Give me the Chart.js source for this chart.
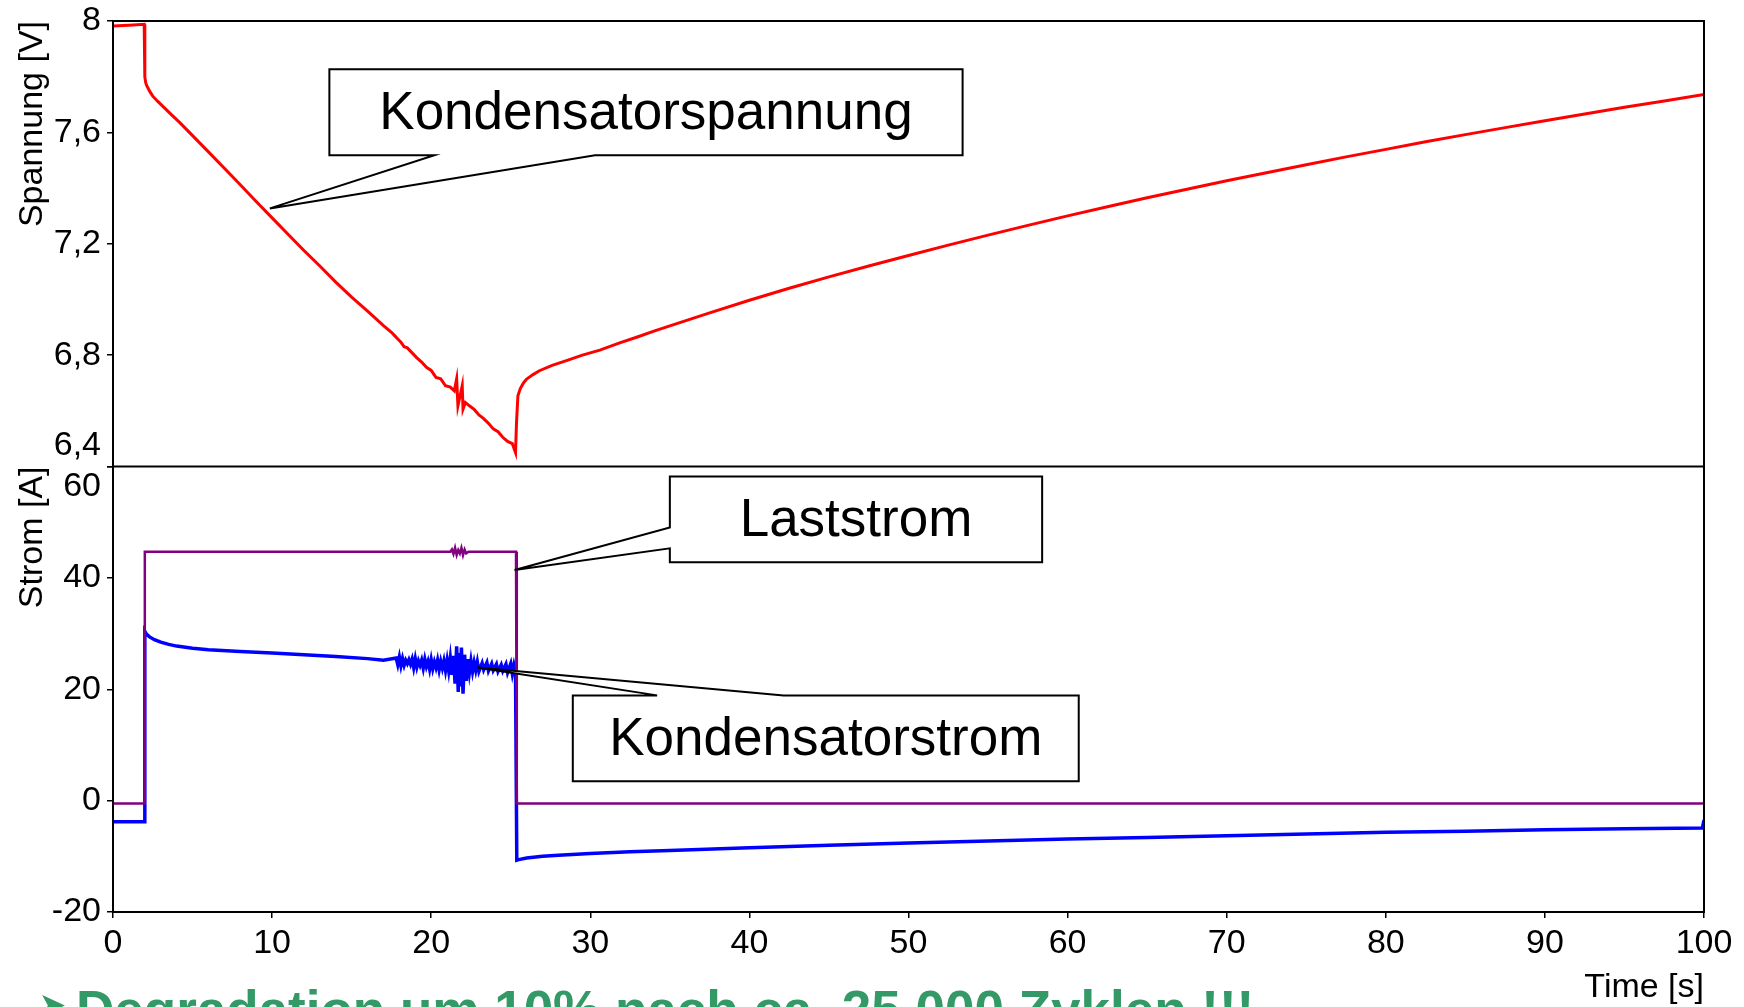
<!DOCTYPE html>
<html>
<head>
<meta charset="utf-8">
<script src="https://cdn.jsdelivr.net/npm/chart.js@4.4.1/dist/chart.umd.min.js"></script>
<style>
  html, body { margin: 0; padding: 0; background: #fff; overflow: hidden; }
  #wrap { position: relative; width: 1744px; height: 1007px; overflow: hidden; }
  #chart { position: absolute; left: 0; top: 0; }
  .note { position: absolute; white-space: nowrap; color: #339966; font-weight: bold;
          font-family: "Liberation Sans", Arial, sans-serif; }
</style>
</head>
<body>
<div id="wrap">
  <canvas id="chart" width="1744" height="1007"></canvas>
  <div class="note" id="bullet" style="left:40px; top:990px; font-size:30px; line-height:30px;">➤</div>
  <div class="note" id="note" style="left:76px; top:983px; font-size:53px; line-height:53px;">Degradation um 10% nach ca. 25.000 Zyklen !!!</div>
</div>
<script>
// Kondensatorspannung [V] over time [s]
const vTime = [0, 1, 1.96, 2.0, 2.05, 2.1, 2.3, 2.5, 2.8, 3.2, 3.7, 4.2, 4.8, 5.4, 6.0, 7.0, 8.0, 9.0, 10.0, 11.0,
  12.0, 13.0, 14.0, 15.0, 16.0, 17.0, 17.5, 17.7, 17.9, 18.1, 18.3, 18.5, 18.8, 19.1, 19.4, 19.7, 20.0, 20.3, 20.6,
  20.9, 21.2, 21.45, 21.6, 21.68, 21.8, 21.95, 22.0, 22.15, 22.4, 22.7, 23.0, 23.3, 23.6, 23.9, 24.2, 24.5, 24.8,
  25.1, 25.3, 25.36, 25.45, 25.6, 25.8, 26.0, 26.4, 26.8, 27.6, 28.5, 29.5, 30.6, 31.8, 33, 34, 35, 37.5, 40, 42.5,
  45, 47.5, 50, 52.5, 55, 57.5, 60, 62.5, 65, 67.5, 70, 72.5, 75, 77.5, 80, 82.5, 85, 87.5, 90, 92.5, 95, 97.5, 100];
const vValues = [7.982, 7.985, 7.988, 7.80, 7.78, 7.77, 7.748, 7.73, 7.712, 7.69, 7.662, 7.635, 7.60, 7.565, 7.53,
  7.471, 7.412, 7.352, 7.293, 7.234, 7.176, 7.12, 7.062, 7.008, 6.958, 6.906, 6.882, 6.870, 6.858, 6.846, 6.830, 6.826,
  6.808, 6.79, 6.775, 6.756, 6.745, 6.72, 6.715, 6.69, 6.685, 6.672, 6.715, 6.618, 6.65, 6.69, 6.606, 6.63, 6.618,
  6.605, 6.585, 6.572, 6.555, 6.535, 6.525, 6.505, 6.49, 6.482, 6.45, 6.555, 6.654, 6.68, 6.70, 6.714, 6.73, 6.744,
  6.763, 6.78, 6.80, 6.818, 6.843, 6.866, 6.886, 6.905, 6.952, 6.997, 7.04, 7.081, 7.12, 7.158, 7.195, 7.231, 7.266,
  7.30, 7.333, 7.365, 7.396, 7.426, 7.455, 7.484, 7.512, 7.539, 7.566, 7.592, 7.617, 7.642, 7.666, 7.69, 7.713, 7.736];

// Laststrom [A]
const lTime = [0, 1.97, 2.0, 21.2, 21.3, 21.4, 21.5, 21.6, 21.7, 21.8, 21.9, 22.0, 22.1, 22.2, 22.35, 25.33, 25.38, 100];
const lValues = [-0.5, -0.5, 44.7, 44.7, 45.1, 44.3, 45.4, 44.1, 45.0, 44.4, 45.4, 44.1, 45.1, 44.4, 44.7, 44.7, -0.5, -0.5];

// Kondensatorstrom [A]
const cTime = [0, 1.97, 2.0, 2.1, 2.3, 2.6, 3.0, 3.5, 4.0, 5.0, 6.0, 8.0, 10, 12, 14, 16, 17,
  17.8, 17.9, 18.0, 18.1, 18.2, 18.3, 18.4, 18.5, 18.6, 18.7, 18.8, 18.9, 19.0, 19.1, 19.2, 19.3, 19.4, 19.5, 19.6,
  19.7, 19.8, 19.9, 20.0, 20.1, 20.2, 20.3, 20.4, 20.5, 20.6, 20.7, 20.8, 20.9, 21.0, 21.1, 21.2, 21.3, 21.4, 21.5,
  21.6, 21.7, 21.75, 21.8, 21.9, 22.0, 22.1, 22.2, 22.3, 22.4, 22.5, 22.6, 22.7, 22.8, 22.9, 23.0, 23.2, 23.3, 23.5,
  23.6, 23.8, 23.9, 24.1, 24.2, 24.4, 24.5, 24.7, 24.8, 25.0, 25.1, 25.2, 25.3,
  25.38, 25.5, 26, 27, 28, 30, 32.5, 35, 40, 45, 50, 55, 60, 65, 70, 75, 80, 85, 90, 95, 99.9, 100];
const cValues = [-3.8, -3.8, 30.4, 29.9, 29.4, 28.9, 28.45, 28.05, 27.75, 27.35, 27.1, 26.8, 26.5, 26.2, 25.9, 25.5, 25.2,
  25.6, 24.4, 25.8, 24.2, 25.5, 24.3, 25.2, 24.6, 25.3, 24.5, 25.4, 23.9, 25.5, 24.0, 25.1, 24.3, 25.2, 23.8, 25.4,
  24.1, 25.0, 23.6, 25.3, 23.7, 24.9, 23.9, 25.2, 23.5, 25.0, 23.8, 25.1, 23.4, 25.2, 23.3, 25.6, 22.6, 26.0, 21.0,
  27.7, 19.5, 26.5, 20.5, 27.5, 19.2, 26.2, 21.5, 25.4, 23.0, 25.1, 23.2, 24.8, 23.4, 24.9, 23.2, 24.7, 23.5, 24.8,
  23.3, 24.6, 23.4, 24.5, 23.2, 24.4, 23.3, 24.5, 23.0, 24.6, 22.8, 24.3, 23.0,
  -10.7, -10.6, -10.3, -10.0, -9.8, -9.5, -9.2, -8.95, -8.45, -8.0, -7.6, -7.25, -6.9, -6.6, -6.3, -6.0, -5.7,
  -5.5, -5.25, -5.05, -4.9, -3.5];

const xTicks = [0, 10, 20, 30, 40, 50, 60, 70, 80, 90, 100];

// callout boxes in data units: box = [tStart, tEnd, yTop, yBottom]
const callouts = [
  { text: 'Kondensatorspannung', axis: 'yV', box: [13.6, 53.4, 7.827, 7.518], side: 'bottom', base: [20.2, 30.3], tip: [9.86, 7.327] },
  { text: 'Laststrom', axis: 'yI', box: [35.0, 58.4, 58.2, 42.8], side: 'left', base: [49.06, 45.3], tip: [25.24, 41.4] },
  { text: 'Kondensatorstrom', axis: 'yI', box: [28.9, 60.7, 18.9, 3.5], side: 'top', base: [34.2, 42.15], tip: [22.9, 23.9] }
];

const pts = (t, v) => t.map((x, i) => ({ x, y: v[i] }));
const FONT = '"Liberation Sans", Arial, sans-serif';
Chart.defaults.font.family = FONT;
Chart.defaults.color = '#000';

const framePlugin = {
  id: 'frame',
  afterDatasetsDraw(chart) {
    const { ctx, chartArea: a, scales } = chart;
    const mid = Math.max(scales.yV.top, scales.yI.top);
    ctx.save();
    ctx.strokeStyle = '#000';
    ctx.lineWidth = 2;
    ctx.strokeRect(a.left, a.top, a.right - a.left, a.bottom - a.top);
    ctx.beginPath();
    ctx.moveTo(a.left, mid);
    ctx.lineTo(a.right, mid);
    ctx.stroke();
    ctx.restore();
  }
};

const calloutPlugin = {
  id: 'callouts',
  afterDatasetsDraw(chart) {
    const { ctx } = chart;
    const x = chart.scales.x;
    callouts.forEach(c => {
      const y = chart.scales[c.axis];
      const L = x.getPixelForValue(c.box[0]), R = x.getPixelForValue(c.box[1]);
      const T = y.getPixelForValue(c.box[2]), B = y.getPixelForValue(c.box[3]);
      const tx = x.getPixelForValue(c.tip[0]), ty = y.getPixelForValue(c.tip[1]);
      let p;
      if (c.side === 'bottom') {
        const b1 = x.getPixelForValue(c.base[0]), b2 = x.getPixelForValue(c.base[1]);
        p = [[L, T], [R, T], [R, B], [b2, B], [tx, ty], [b1, B], [L, B]];
      } else if (c.side === 'top') {
        const b1 = x.getPixelForValue(c.base[0]), b2 = x.getPixelForValue(c.base[1]);
        p = [[L, T], [b1, T], [tx, ty], [b2, T], [R, T], [R, B], [L, B]];
      } else {
        const b1 = y.getPixelForValue(c.base[0]), b2 = y.getPixelForValue(c.base[1]);
        p = [[L, T], [R, T], [R, B], [L, B], [L, b2], [tx, ty], [L, b1]];
      }
      ctx.save();
      ctx.beginPath();
      p.forEach((q, i) => i ? ctx.lineTo(q[0], q[1]) : ctx.moveTo(q[0], q[1]));
      ctx.closePath();
      ctx.fillStyle = '#fff';
      ctx.fill();
      ctx.lineWidth = 2;
      ctx.strokeStyle = '#000';
      ctx.stroke();
      ctx.fillStyle = '#000';
      ctx.font = '53px ' + FONT;
      ctx.textAlign = 'center';
      ctx.textBaseline = 'middle';
      ctx.fillText(c.text, (L + R) / 2, (T + B) / 2 + 2);
      ctx.restore();
    });
  }
};

const fmtV = v => {
  const s = (Math.round(v * 10) / 10).toFixed(1).replace('.', ',');
  return s.endsWith(',0') ? s.slice(0, -2) : s;
};

const tickFont = { size: 34 };
const titleFont = { size: 34 };
const axisGrid = { drawOnChartArea: false, drawTicks: true, tickLength: 6, color: '#000', lineWidth: 1.5 };
const fitY = s => { s.width = 113; s.paddingTop = 0; s.paddingBottom = 0; };

new Chart(document.getElementById('chart'), {
  type: 'line',
  data: {
    datasets: [
      { label: 'Laststrom', data: pts(lTime, lValues), yAxisID: 'yI', borderColor: '#800080', borderWidth: 2.5 },
      { label: 'Kondensatorstrom', data: pts(cTime, cValues), yAxisID: 'yI', borderColor: '#0000ff', borderWidth: 3.5 },
      { label: 'Kondensatorspannung', data: pts(vTime, vValues), yAxisID: 'yV', borderColor: '#ff0000', borderWidth: 3 }
    ]
  },
  options: {
    responsive: false,
    animation: false,
    events: [],
    elements: { point: { radius: 0 }, line: { tension: 0 } },
    layout: { padding: { left: 0, right: 40, top: 21, bottom: 0 } },
    plugins: { legend: { display: false }, tooltip: { enabled: false } },
    scales: {
      x: {
        type: 'linear', min: 0, max: 100,
        afterBuildTicks: s => { s.ticks = xTicks.map(v => ({ value: v })); },
        afterFit: s => { s.height = 95; },
        ticks: { font: tickFont, padding: 5, maxRotation: 0, autoSkip: false },
        grid: axisGrid,
        border: { color: '#000', width: 2 },
        title: { display: true, text: 'Time [s]', align: 'end', font: titleFont, padding: { top: 0, bottom: -1 } }
      },
      yI: {
        type: 'linear', position: 'left', stack: 'main', stackWeight: 1, min: -20, max: 60,
        afterFit: fitY,
        ticks: { stepSize: 20, font: tickFont, padding: 6, autoSkip: false, callback: v => v === 60 ? ['', '60'] : String(v) },
        grid: axisGrid,
        border: { color: '#000', width: 2 },
        title: { display: true, text: 'Strom [A]', align: 'end', font: titleFont, padding: { top: 12, bottom: 0 } }
      },
      yV: {
        type: 'linear', position: 'left', stack: 'main', stackWeight: 1, min: 6.4, max: 8,
        afterFit: fitY,
        ticks: { stepSize: 0.4, font: tickFont, padding: 6, autoSkip: false, callback: v => Math.abs(v - 6.4) < 1e-6 ? [fmtV(v), ''] : fmtV(v) },
        grid: axisGrid,
        border: { color: '#000', width: 2 },
        title: { display: true, text: 'Spannung [V]', align: 'end', font: titleFont, padding: { top: 12, bottom: 0 } }
      }
    }
  },
  plugins: [framePlugin, calloutPlugin]
});
</script>
</body>
</html>
